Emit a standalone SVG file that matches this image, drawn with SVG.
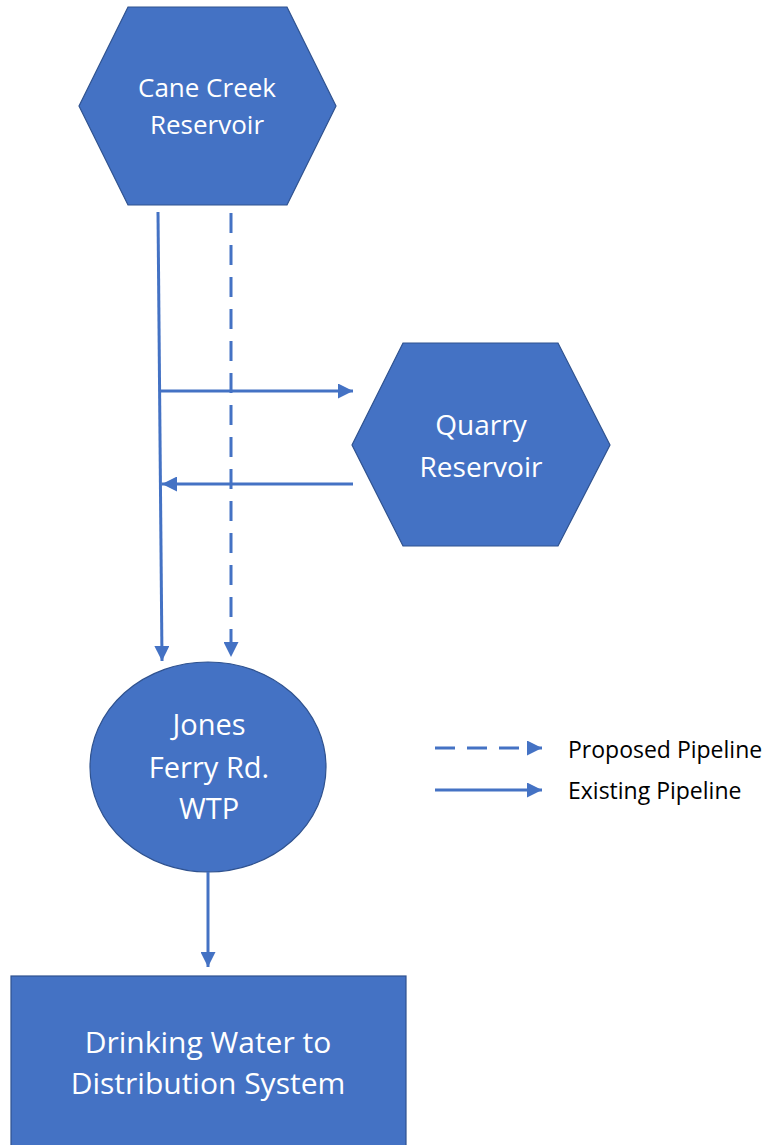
<svg xmlns="http://www.w3.org/2000/svg" width="768" height="1145" viewBox="0 0 768 1145">
<defs>
<style>
.node{fill:#4472C4;stroke:#2F528F;stroke-width:1.2}
.lbl{fill:#ffffff;font-family:"Open Sans","Liberation Sans",sans-serif;text-anchor:middle}
.pipe{fill:none;stroke:#4472C4;stroke-width:3}
.dash{stroke-dasharray:20 12}
.leg{fill:#000000;font-family:"Open Sans","Liberation Sans",sans-serif;font-size:23px}
</style>
<marker id="ah" viewBox="0 0 10 10" refX="10" refY="5" markerWidth="5" markerHeight="5" markerUnits="strokeWidth" orient="auto">
<path d="M0,0 L10,5 L0,10 Z" fill="#4472C4"/>
</marker>
</defs>
<rect width="768" height="1145" fill="#ffffff"/>
<g id="cane-creek">
<polygon class="node" points="128,7 287,7 336,106 287,205 128,205 79,106"/>
<text class="lbl" x="207" y="97" font-size="26">Cane Creek</text>
<text class="lbl" x="207" y="134" font-size="26">Reservoir</text>
</g>
<g id="quarry">
<polygon class="node" points="403,343 558,343 610,445 558,546 403,546 352,445"/>
<text class="lbl" x="481" y="435" font-size="28">Quarry</text>
<text class="lbl" x="481" y="477" font-size="28">Reservoir</text>
</g>
<g id="jones-ferry">
<ellipse class="node" cx="208" cy="767" rx="118" ry="105"/>
<text class="lbl" x="209" y="735" font-size="29">Jones</text>
<text class="lbl" x="209" y="778" font-size="29">Ferry Rd.</text>
<text class="lbl" x="209" y="819" font-size="29">WTP</text>
</g>
<g id="drinking-water">
<rect class="node" x="11" y="976" width="395" height="175"/>
<text class="lbl" x="208" y="1053" font-size="30">Drinking Water to</text>
<text class="lbl" x="208" y="1094" font-size="30">Distribution System</text>
</g>
<g id="connectors">
<path class="pipe" d="M158,212 L162,661" marker-end="url(#ah)"/>
<path class="pipe dash" d="M231,213 L231,657" marker-end="url(#ah)"/>
<path class="pipe" d="M161,391 L353,391" marker-end="url(#ah)"/>
<path class="pipe" d="M353,484 L162,484" marker-end="url(#ah)"/>
<path class="pipe" d="M208,872 L208,967" marker-end="url(#ah)"/>
</g>
<g id="legend">
<path class="pipe dash" d="M435,748 L542,748" marker-end="url(#ah)"/>
<path class="pipe" d="M435,790 L542,790" marker-end="url(#ah)"/>
<text class="leg" x="568" y="758">Proposed Pipeline</text>
<text class="leg" x="568" y="799">Existing Pipeline</text>
</g>
</svg>
